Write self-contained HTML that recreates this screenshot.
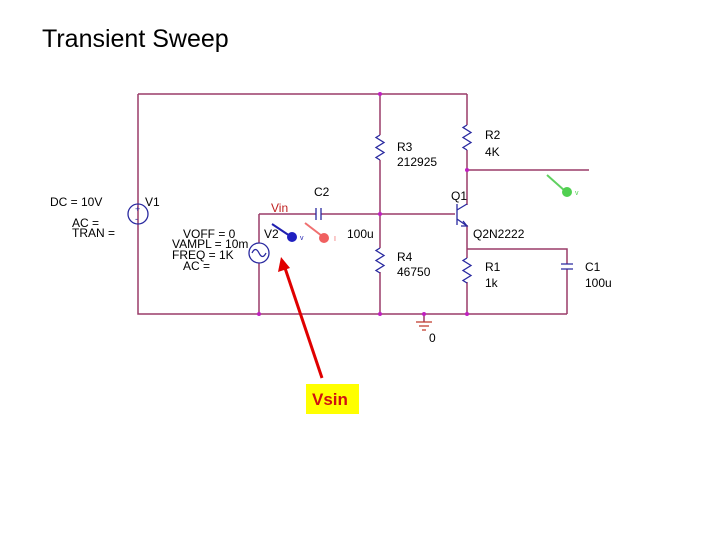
<!DOCTYPE html>
<html><head><style>
body{margin:0;background:#fff;width:720px;height:540px;overflow:hidden}
svg text{font-family:"Liberation Sans",Arial,sans-serif}
</style></head><body>
<svg width="720" height="540" xmlns="http://www.w3.org/2000/svg">
<text x="42" y="47" font-size="25" fill="#000">Transient Sweep</text>
<g stroke="#9a3c68" stroke-width="1.5" fill="none">
<path d="M138 94H467M138 94V314H567M380 94V135M380 160V248M380 272V314M467 94V125M467 150V205M467 170H589M259 214H316M321 214H455M259 214V243M259 263V314M467 225V258M467 282V314M467 249H567V264M567 269V314M138 94V204M424 314V322"/>
</g>
<g stroke="#2a2aa0" stroke-width="1.3" fill="none">
<path d="M380 135l-4 2.5 8 5-8 5 8 5-8 5 4 2.5"/>
<path d="M380 248l-4 2.5 8 5-8 5 8 5-8 5 4 2.5"/>
<path d="M467 125l-4 2.5 8 5-8 5 8 5-8 5 4 2.5"/>
<path d="M467 258l-4 2.5 8 5-8 5 8 5-8 5 4 2.5"/>
<path d="M316 208V220M321 208V220M561 264H573M561 269H573"/>
<path d="M457 204V225M457 210L467 204M457 219L467 226M463 221l4 5-6 0"/>
<circle cx="138" cy="214" r="10"/>
<circle cx="259" cy="253" r="10"/>
<path d="M252 253q3.5-7 7 0t7 0"/>
</g>
<text x="135" y="212" font-size="9" fill="#2a2aa0">+</text>
<text x="135" y="222" font-size="9" fill="#2a2aa0">-</text>
<g stroke="#c0392b" stroke-width="1.2"><path d="M416 322H432M419 326H429M422 330H426"/></g>
<g fill="#c020c0">
<circle cx="380" cy="94" r="2"/><circle cx="380" cy="214" r="2"/><circle cx="380" cy="314" r="2"/>
<circle cx="467" cy="170" r="2"/><circle cx="259" cy="314" r="2"/><circle cx="467" cy="314" r="2"/><circle cx="424" cy="314" r="2"/>
</g>
<path d="M272 224L290 236" stroke="#2020b0" stroke-width="2"/><circle cx="292" cy="237" r="5" fill="#2020c0"/>
<text x="300" y="240" font-size="7" fill="#2020b0">v</text>
<path d="M305 223L322 236" stroke="#f07070" stroke-width="2"/><circle cx="324" cy="238" r="5" fill="#f06060"/>
<text x="334" y="241" font-size="7" fill="#f06060">I</text>
<path d="M547 175L565 191" stroke="#60d060" stroke-width="2"/><circle cx="567" cy="192" r="5" fill="#50d050"/>
<text x="575" y="195" font-size="7" fill="#50d050">v</text>
<g font-size="12" fill="#000">
<text x="50" y="206">DC = 10V</text>
<text x="145" y="206">V1</text>
<text x="72" y="227">AC =</text>
<text x="72" y="237">TRAN =</text>
<text x="183" y="238">VOFF = 0</text>
<text x="172" y="248">VAMPL = 10m</text>
<text x="172" y="259">FREQ = 1K</text>
<text x="183" y="270">AC =</text>
<text x="264" y="238">V2</text>
<text x="314" y="196">C2</text>
<text x="347" y="238">100u</text>
<text x="397" y="151">R3</text>
<text x="397" y="166">212925</text>
<text x="397" y="261">R4</text>
<text x="397" y="276">46750</text>
<text x="485" y="139">R2</text>
<text x="485" y="156">4K</text>
<text x="451" y="200">Q1</text>
<text x="473" y="238">Q2N2222</text>
<text x="485" y="271">R1</text>
<text x="485" y="287">1k</text>
<text x="585" y="271">C1</text>
<text x="585" y="287">100u</text>
<text x="429" y="342">0</text>
</g>
<text x="271" y="212" font-size="12" fill="#c02020">Vin</text>
<path d="M322 378L285 268" stroke="#e00000" stroke-width="3"/>
<path d="M281 257L278 272L290 268Z" fill="#e00000"/>
<rect x="306" y="384" width="53" height="30" fill="#ffff00"/>
<text x="312" y="405" font-size="17" font-weight="bold" fill="#d01010">Vsin</text>
</svg>
</body></html>
